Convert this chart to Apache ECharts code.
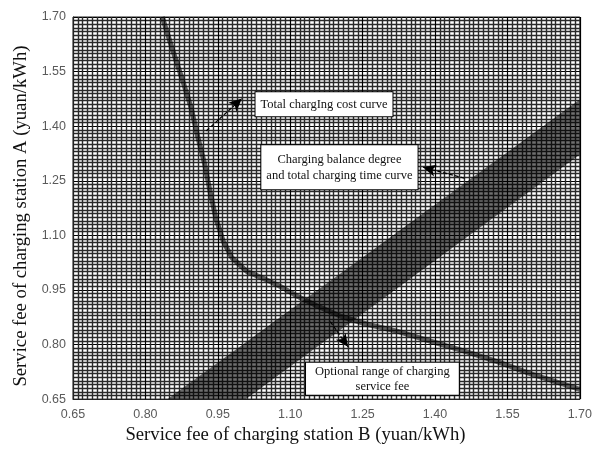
<!DOCTYPE html>
<html><head><meta charset="utf-8">
<script src="https://cdn.jsdelivr.net/npm/echarts@6/dist/echarts.min.js"></script>
<style>html,body{margin:0;padding:0;background:#fff}#c{width:595px;height:450px}</style>
</head><body><div id="c"></div>
<script>
// ---- data ----
const axisMin = 0.65, axisMax = 1.70, tickStep = 0.15, meshPerTick = 15;
const xTitle = 'Service fee of charging station B (yuan/kWh)';
const yTitle = 'Service fee of charging station A (yuan/kWh)';

// total charging cost curve
const curveX = [0.835,0.856,0.876,0.895,0.909,0.922,0.934,0.946,0.961,0.979,1.010,1.049,1.086,1.117,1.159,1.206,1.261,1.323,1.391,1.461,1.529,1.597,1.700];
const curveY = [1.700,1.611,1.530,1.449,1.368,1.300,1.220,1.147,1.085,1.039,1.001,0.979,0.955,0.931,0.904,0.877,0.855,0.836,0.809,0.782,0.753,0.720,0.677];

// charging balance degree & total charging time band (edges)
const bandUpperEdge = [[0.846,0.65],[1.70,1.473]];
const bandLowerEdge = [[1.008,0.65],[1.70,1.322]];

// annotation texts, anchors and arrows (data coordinates)
const noteTexts = ['Total chargIng cost curve', 'Charging balance degree\nand total charging time curve', 'Optional range of charging\nservice fee'];
const noteAnchors = [[1.170,1.460],[1.202,1.287],[1.291,0.706]];
const arrowTails = [[0.926,1.387],[1.461,1.257],[1.183,0.863]];
const arrowHeads = [[1.000,1.476],[1.375,1.287],[1.220,0.793]];

// ---- chart ----
const chart = echarts.init(document.getElementById('c'));
const bandPolygon = bandUpperEdge.concat(bandLowerEdge.slice().reverse());
const notePad = [[4,5],[6,5],[1,9]];

function axisCfg(isX){
  return {
    type:'value', min:axisMin, max:axisMax, interval:tickStep,
    axisLabel:{formatter:v=>v.toFixed(2), color:'#5a5a5a', fontFamily:'Liberation Sans', fontSize:12.5, margin: isX?9:7},
    axisTick:{show:false},
    axisLine:{show:true, lineStyle:{color:'#222', width:1}},
    splitLine:{show:true, lineStyle:{color:'#000', width:1.2}},
    minorTick:{show:false, splitNumber:meshPerTick},
    minorSplitLine:{show:true, lineStyle:{color:'#2a2a2a', width:1.4}},
    name: isX?xTitle:yTitle, nameLocation:'middle', nameGap: isX?24:41,
    nameTextStyle:{fontFamily:'Liberation Serif', fontSize:18.7, color:'#111', padding: isX?[0,62,0,0]:[0,16,0,0]}
  };
}

chart.setOption({
  animation:false,
  backgroundColor:'#fff',
  grid:{left:73, right:12, top:17, bottom:44, show:true, borderColor:'#222', borderWidth:1},
  xAxis: axisCfg(true),
  yAxis: axisCfg(false),
  series:[
    {
      type:'custom', coordinateSystem:'cartesian2d', silent:true, z:2, clip:true,
      data: bandPolygon,
      renderItem:(params, api)=>{
        if(params.dataIndex!==0) return null;
        return {type:'polygon', shape:{points:bandPolygon.map(p=>api.coord(p))}, style:{fill:'rgba(0,0,0,0.57)'}};
      }
    },
    {
      type:'line', z:3, silent:true, symbol:'none',
      data: curveX.map((x,i)=>[x,curveY[i]]),
      lineStyle:{color:'rgba(0,0,0,0.6)', width:5},
      markLine:{
        silent:true, symbol:['none','arrow'], symbolSize:[9,13],
        label:{show:false},
        lineStyle:{color:'#000', width:1.2, type:[4,2]},
        data: arrowTails.map((t,i)=>[{coord:t},{coord:arrowHeads[i]}])
      },
      markPoint:{
        silent:true, symbol:'rect', symbolSize:1, itemStyle:{color:'rgba(0,0,0,0)'},
        data: noteAnchors.map((c,i)=>({coord:c, label:{
          show:true, position:'inside', formatter:noteTexts[i], align:'center',
          color:'#111', fontFamily:'Liberation Serif', fontSize:12.5, lineHeight:i===2?15:16,
          backgroundColor:'#fff', borderColor:'#000', borderWidth:1, padding:notePad[i]
        }}))
      }
    }
  ]
});
</script></body></html>
